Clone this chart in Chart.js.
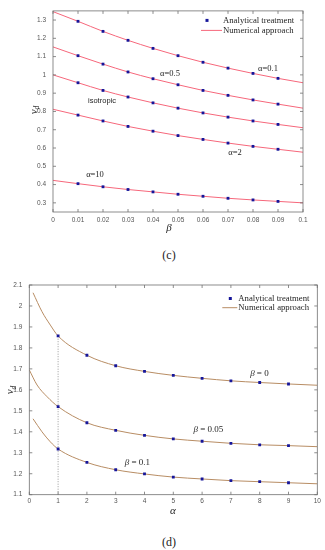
<!DOCTYPE html>
<html>
<head>
<meta charset="utf-8">
<script src="https://cdn.jsdelivr.net/npm/chart.js@4.4.1/dist/chart.umd.min.js"></script>
<style>
  html, body { margin: 0; padding: 0; background: #fff; }
  body { position: relative; width: 325px; height: 550px; overflow: hidden; }
  canvas { position: absolute; left: 0; }
  #chartC { top: 0; }
  #chartD { top: 272px; }
  .caption { position: absolute; left: 0; width: 338px; text-align: center; font: 12px "Liberation Serif", serif; color: #222; line-height: 14px; }
</style>
</head>
<body>
<canvas id="chartC" width="325" height="240"></canvas>
<div class="caption" style="top:248px">(c)</div>
<canvas id="chartD" width="325" height="250"></canvas>
<div class="caption" style="top:535px">(d)</div>
<script>
const BLUE = '#16169a';
const PINK = '#f6677b';
const TAN = '#b88d64';
const SERIF = '"Liberation Serif", serif';
const SANS = '"Liberation Sans", Arial, sans-serif';

// panel (c): v_d against beta
const betaPoints = [0.01, 0.02, 0.03, 0.04, 0.05, 0.06, 0.07, 0.08, 0.09];
const betaLine = [0, 0.01, 0.02, 0.03, 0.04, 0.05, 0.06, 0.07, 0.08, 0.09, 0.1];
const cYTicks = [0.3, 0.4, 0.5, 0.6, 0.7, 0.8, 0.9, 1, 1.1, 1.2, 1.3];

const alpha01Pts = [1.293, 1.238, 1.189, 1.145, 1.105, 1.069, 1.037, 1.008, 0.981];
const alpha05Pts = [1.105, 1.059, 1.016, 0.979, 0.946, 0.915, 0.888, 0.863, 0.840];
const isoPts     = [0.957, 0.915, 0.879, 0.847, 0.818, 0.792, 0.769, 0.748, 0.729];
const alpha2Pts  = [0.780, 0.748, 0.718, 0.692, 0.668, 0.647, 0.627, 0.609, 0.593];
const alpha10Pts = [0.405, 0.388, 0.373, 0.360, 0.347, 0.336, 0.325, 0.316, 0.308];

const alpha01Line = [1.346, 1.293, 1.238, 1.189, 1.145, 1.105, 1.069, 1.037, 1.008, 0.981, 0.957];
const alpha05Line = [1.153, 1.105, 1.059, 1.016, 0.979, 0.946, 0.915, 0.888, 0.863, 0.840, 0.818];
const isoLine     = [1.000, 0.957, 0.915, 0.879, 0.847, 0.818, 0.792, 0.769, 0.748, 0.729, 0.711];
const alpha2Line  = [0.812, 0.780, 0.748, 0.718, 0.692, 0.668, 0.647, 0.627, 0.609, 0.593, 0.577];
const alpha10Line = [0.423, 0.405, 0.388, 0.373, 0.360, 0.347, 0.336, 0.325, 0.316, 0.308, 0.300];

// panel (d): v_d against alpha
const alphaPoints = [1, 2, 3, 4, 5, 6, 7, 8, 9];
const dYTicks = [1.1, 1.2, 1.3, 1.4, 1.5, 1.6, 1.7, 1.8, 1.9, 2, 2.1];
const beta0Pts   = [1.857, 1.765, 1.715, 1.688, 1.669, 1.655, 1.643, 1.635, 1.628];
const beta005Pts = [1.520, 1.443, 1.407, 1.383, 1.366, 1.355, 1.345, 1.338, 1.334];
const beta01Pts  = [1.318, 1.254, 1.219, 1.199, 1.184, 1.175, 1.167, 1.162, 1.157];

const beta0LineX   = [0.13, 0.44, 0.73, 1, 2, 3, 4, 5, 6, 7, 8, 9, 10];
const beta0Line    = [2.063, 1.973, 1.909, 1.857, 1.765, 1.715, 1.688, 1.669, 1.655, 1.643, 1.635, 1.628, 1.622];
const beta005LineX = [0, 0.27, 0.62, 1, 2, 3, 4, 5, 6, 7, 8, 9, 10];
const beta005Line  = [1.695, 1.623, 1.567, 1.520, 1.443, 1.407, 1.383, 1.366, 1.355, 1.345, 1.338, 1.334, 1.329];
const beta01LineX  = [0.13, 0.44, 0.73, 1, 2, 3, 4, 5, 6, 7, 8, 9, 10];
const beta01Line   = [1.462, 1.400, 1.352, 1.318, 1.254, 1.219, 1.199, 1.184, 1.175, 1.167, 1.162, 1.157, 1.152];

const guideX = [1, 1];
const guideY = [1.1, 1.857];

const legendLabels = ['Analytical treatment', 'Numerical approach'];

const pts = (xs, ys) => xs.map((x, i) => ({x: x, y: ys[i]}));

const dotSet = (xs, ys) => ({
  data: pts(xs, ys), showLine: false, pointStyle: 'rect', pointRadius: 2,
  pointBackgroundColor: BLUE, pointBorderWidth: 0, order: 0
});
const lineSet = (xs, ys, color) => ({
  data: pts(xs, ys), showLine: true, borderColor: color, borderWidth: 1,
  pointRadius: 0, cubicInterpolationMode: 'monotone', order: 1
});

// draw centered text made of pieces with different fonts
function drawRich(ctx, parts, x, y) {
  let w = 0;
  parts.forEach(p => { ctx.font = p.f; w += ctx.measureText(p.t).width; });
  let cx = x - w / 2;
  ctx.textAlign = 'left';
  ctx.textBaseline = 'middle';
  parts.forEach(p => { ctx.font = p.f; ctx.fillText(p.t, cx, y); cx += ctx.measureText(p.t).width; });
}

// matlab style box, inward ticks, legend, curve notes and axis titles
const matlabLook = {
  id: 'matlab',
  afterDatasetsDraw(chart, args, o) {
    const ctx = chart.ctx, a = chart.chartArea;
    const xs = chart.scales.x, ys = chart.scales.y;
    ctx.save();
    ctx.strokeStyle = '#707070';
    ctx.lineWidth = 0.8;
    ctx.beginPath();
    xs.ticks.forEach(t => {
      const p = xs.getPixelForValue(t.value);
      ctx.moveTo(p, a.bottom); ctx.lineTo(p, a.bottom - 3);
      ctx.moveTo(p, a.top); ctx.lineTo(p, a.top + 3);
    });
    ys.ticks.forEach(t => {
      const p = ys.getPixelForValue(t.value);
      ctx.moveTo(a.left, p); ctx.lineTo(a.left + 3, p);
      ctx.moveTo(a.right, p); ctx.lineTo(a.right - 3, p);
    });
    ctx.stroke();
    ctx.strokeRect(a.left, a.top, a.right - a.left, a.bottom - a.top);

    // legend
    const L = o.legend;
    ctx.fillStyle = BLUE;
    ctx.fillRect(a.right - L.dot - 1.5, a.top + L.y1 - 1.5, 3, 3);
    ctx.strokeStyle = o.lineColor;
    ctx.lineWidth = 1;
    ctx.beginPath();
    ctx.moveTo(a.right - L.line0, a.top + L.y2);
    ctx.lineTo(a.right - L.line1, a.top + L.y2);
    ctx.stroke();
    ctx.fillStyle = '#1e1e1e';
    ctx.font = '8.7px ' + SERIF;
    ctx.textAlign = 'left';
    ctx.textBaseline = 'middle';
    ctx.fillText(legendLabels[0], a.right - L.text, a.top + L.y1);
    ctx.fillText(legendLabels[1], a.right - L.text, a.top + L.y2);

    // curve notes
    o.notes.forEach(n => drawRich(ctx, n.parts, xs.getPixelForValue(n.x), ys.getPixelForValue(n.y)));

    // x title
    drawRich(ctx, [{t: o.xTitle.t, f: 'italic 11px ' + SERIF}], o.xTitle.x, o.xTitle.y);
    // y title v_d, rotated
    ctx.translate(o.yTitle.x, o.yTitle.y);
    ctx.rotate(-Math.PI / 2);
    ctx.font = 'italic 11px ' + SERIF;
    const vw = ctx.measureText('v').width;
    ctx.font = 'italic 7.5px ' + SERIF;
    const dw = ctx.measureText('d').width;
    ctx.textAlign = 'left';
    ctx.textBaseline = 'middle';
    ctx.font = 'italic 11px ' + SERIF;
    ctx.fillText('v', -(vw + dw) / 2, -1);
    ctx.font = 'italic 7.5px ' + SERIF;
    ctx.fillText('d', -(vw + dw) / 2 + vw, 2.5);
    ctx.restore();
  }
};

const tickFont = {family: SANS, size: 6.5};
const trimNum = v => String(Number(Number(v).toFixed(4)));

function panelOptions(p) {
  return {
    responsive: false,
    animation: false,
    layout: {padding: p.padding},
    plugins: {legend: {display: false}, tooltip: {enabled: false}, matlab: p.look},
    scales: {
      x: {
        type: 'linear', min: p.xMin, max: p.xMax,
        grid: {display: false, drawTicks: false}, border: {display: false},
        ticks: {stepSize: p.xStep, autoSkip: false, maxRotation: 0, padding: p.xPad, color: '#555', font: tickFont, callback: trimNum},
        afterFit: s => { s.height = p.xHeight; }
      },
      y: {
        type: 'linear', min: p.yMin, max: p.yMax,
        grid: {display: false, drawTicks: false}, border: {display: false},
        ticks: {autoSkip: false, padding: 7, color: '#555', font: tickFont, callback: trimNum},
        afterBuildTicks: s => { s.ticks = p.yTicks.map(v => ({value: v})); },
        afterFit: s => { s.width = p.yWidth; }
      }
    }
  };
}

const noteFont = '8.5px ' + SERIF;
const mathIt = 'italic 9px ' + SERIF;
const mathUp = '9px ' + SERIF;

new Chart(document.getElementById('chartC'), {
  type: 'scatter',
  data: {
    datasets: [
      dotSet(betaPoints, alpha01Pts), dotSet(betaPoints, alpha05Pts), dotSet(betaPoints, isoPts),
      dotSet(betaPoints, alpha2Pts), dotSet(betaPoints, alpha10Pts),
      lineSet(betaLine, alpha01Line, PINK), lineSet(betaLine, alpha05Line, PINK), lineSet(betaLine, isoLine, PINK),
      lineSet(betaLine, alpha2Line, PINK), lineSet(betaLine, alpha10Line, PINK)
    ]
  },
  options: panelOptions({
    padding: {top: 5.5, right: 22, left: 0, bottom: 0},
    xMin: 0, xMax: 0.1, xStep: 0.01, xPad: 4, xHeight: 28,
    yMin: 0.25, yMax: 1.35, yWidth: 53, yTicks: cYTicks,
    look: {
      lineColor: PINK,
      legend: {dot: 96, text: 80, line0: 102, line1: 81, y1: 9.5, y2: 19.5},
      notes: [
        {x: 0.086, y: 1.034, parts: [{t: 'α=0.1', f: noteFont}]},
        {x: 0.0468, y: 1.007, parts: [{t: 'α=0.5', f: noteFont}]},
        {x: 0.0196, y: 0.857, parts: [{t: 'isotropic', f: '7.5px ' + SANS}]},
        {x: 0.0728, y: 0.575, parts: [{t: 'α=2', f: noteFont}]},
        {x: 0.0168, y: 0.454, parts: [{t: 'α=10', f: noteFont}]}
      ],
      xTitle: {t: 'β', x: 169, y: 228.5},
      yTitle: {x: 35, y: 110}
    }
  }),
  plugins: [matlabLook]
});

new Chart(document.getElementById('chartD'), {
  type: 'scatter',
  data: {
    datasets: [
      dotSet(alphaPoints, beta0Pts), dotSet(alphaPoints, beta005Pts), dotSet(alphaPoints, beta01Pts),
      lineSet(beta0LineX, beta0Line, TAN), lineSet(beta005LineX, beta005Line, TAN), lineSet(beta01LineX, beta01Line, TAN),
      {data: pts(guideX, guideY), showLine: true, borderColor: '#9a9a9a', borderWidth: 1, borderDash: [1, 1.5], pointRadius: 0, order: 2}
    ]
  },
  options: panelOptions({
    padding: {top: 13, right: 7.7, left: 0, bottom: 0},
    xMin: 0, xMax: 10, xStep: 1, xPad: 3, xHeight: 27.3,
    yMin: 1.1, yMax: 2.1, yWidth: 29.3, yTicks: dYTicks,
    look: {
      lineColor: TAN,
      legend: {dot: 87, text: 79, line0: 95, line1: 80, y1: 13.5, y2: 22.7},
      notes: [
        {x: 7.99, y: 1.676, parts: [{t: 'β', f: mathIt}, {t: ' = 0', f: mathUp}]},
        {x: 6.22, y: 1.409, parts: [{t: 'β', f: mathIt}, {t: ' = 0.05', f: mathUp}]},
        {x: 3.75, y: 1.254, parts: [{t: 'β', f: mathIt}, {t: ' = 0.1', f: mathUp}]}
      ],
      xTitle: {t: 'α', x: 173, y: 238.7},
      yTitle: {x: 11.5, y: 118}
    }
  }),
  plugins: [matlabLook]
});
</script>
</body>
</html>
